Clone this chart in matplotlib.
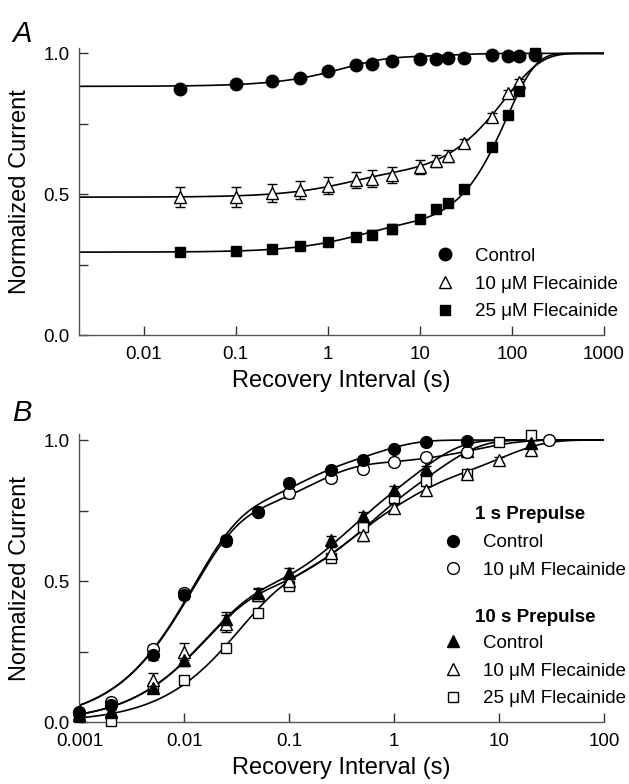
import numpy as np
import matplotlib
matplotlib.use("Agg")
import matplotlib.pyplot as plt
from matplotlib.lines import Line2D

plt.rcParams['font.family'] = ['Liberation Sans', 'DejaVu Sans']

# ---- panel A data: recovery after use-dependent block ----
t_a = [0.025, 0.1, 0.25, 0.5, 1, 2, 3, 5, 10, 15, 20, 30, 60, 90, 120, 180]
ctrl_a = [0.872, 0.893, 0.902, 0.913, 0.936, 0.958, 0.961, 0.973, 0.981,
          0.981, 0.983, 0.983, 0.993, 0.989, 0.989, 0.996]
t10_a = t_a[:15]
fle10_a = [0.491, 0.491, 0.505, 0.515, 0.530, 0.551, 0.555, 0.569, 0.598,
           0.618, 0.636, 0.683, 0.775, 0.860, 0.900]
err10_a = [0.035, 0.035, 0.033, 0.033, 0.030, 0.030, 0.030, 0.028, 0.025,
           0.022, 0.020, 0.015, 0.012, 0.010, 0.010]
fle25_a = [0.296, 0.300, 0.307, 0.316, 0.330, 0.349, 0.357, 0.378, 0.412,
           0.448, 0.471, 0.519, 0.669, 0.781, 0.866, 1.000]
err25_a = [0.012, 0.012, 0.013, 0.013, 0.014, 0.015, 0.015, 0.017, 0.015,
           0.015, 0.013, 0.012, 0.010, 0.010, 0.010, 0.010]

# fitted recovery: 1 - sum a*exp(-(t/tau)^beta)
fit_ctrl_a = ([0.100, 0.017], [1.5, 20.0], [1, 1])
fit_10_a = ([0.070, 0.440], [1.5, 84.0], [1, 1.1])
fit_25_a = ([0.085, 0.620], [2.0, 88.0], [1, 1.38])

# ---- panel B data: 1 s and 10 s prepulses ----
t1c = [0.001, 0.002, 0.005, 0.01, 0.025, 0.05, 0.1, 0.25, 0.5, 1, 2, 5]
ctrl1_b = [0.032, 0.060, 0.240, 0.451, 0.642, 0.744, 0.847, 0.894, 0.929,
           0.968, 0.992, 0.998]
ctrl1_err = [0.01, 0.01, 0.02, 0.015, 0.015, 0.01, 0.015, 0.012, 0.01,
             0.01, 0.01, 0.01]
t1f = [0.001, 0.002, 0.005, 0.01, 0.025, 0.05, 0.1, 0.25, 0.5, 1, 2, 5, 30]
fle1_b = [0.035, 0.073, 0.260, 0.457, 0.645, 0.744, 0.811, 0.864, 0.896,
          0.923, 0.939, 0.959, 1.000]
fle1_err = [0.01, 0.01, 0.015, 0.015, 0.015, 0.01, 0.015, 0.012, 0.01,
            0.01, 0.01, 0.01, 0.01]
t10c = [0.001, 0.002, 0.005, 0.01, 0.025, 0.05, 0.1, 0.25, 0.5, 1, 2, 5, 20]
ctrl10_b = [0.030, 0.040, 0.120, 0.220, 0.365, 0.457, 0.528, 0.646, 0.731,
            0.823, 0.897, 0.962, 0.990]
ctrl10_err = [0.01, 0.01, 0.015, 0.02, 0.025, 0.02, 0.02, 0.015, 0.015,
              0.015, 0.01, 0.01, 0.01]
t10f = [0.001, 0.002, 0.005, 0.01, 0.025, 0.05, 0.1, 0.25, 0.5, 1, 2, 5, 10, 20]
fle10_b = [0.025, 0.035, 0.150, 0.250, 0.350, 0.451, 0.500, 0.600, 0.663,
           0.758, 0.823, 0.880, 0.930, 0.965]
fle10_err = [0.01, 0.01, 0.025, 0.03, 0.03, 0.02, 0.02, 0.02, 0.02,
             0.015, 0.015, 0.01, 0.01, 0.01]
fle25_b = [0.020, 0.006, 0.120, 0.150, 0.262, 0.388, 0.484, 0.581, 0.693,
           0.793, 0.855, 0.879, 0.992, 1.018]
fle25_err = [0.01, 0.01, 0.015, 0.01, 0.01, 0.01, 0.01, 0.01, 0.01,
             0.01, 0.01, 0.01, 0.01, 0.01]

fit_ctrl1 = ([0.70, 0.16, 0.14], [0.0115, 0.09, 0.6])
fit_fle1 = ([0.70, 0.21, 0.09], [0.0115, 0.15, 6.0])
fit_ctrl10 = ([0.42, 0.25, 0.33], [0.015, 0.25, 1.6])
fit_fle10 = ([0.42, 0.20, 0.20, 0.18], [0.015, 0.25, 1.0, 10.0])
fit_fle25 = ([0.45, 0.25, 0.30], [0.03, 0.4, 2.5])

FS = 13.5      # tick / legend text
LFS = 17       # axis labels


def recovery(t, amps, taus, betas=None):
    if betas is None:
        betas = [1] * len(amps)
    y = np.ones_like(t)
    for a, tau, b in zip(amps, taus, betas):
        y -= a * np.exp(-(t / tau) ** b)
    return y


def style_axes(ax, xlim, xticks, xlabels):
    ax.set_xscale('log')
    ax.set_xlim(*xlim)
    ax.set_ylim(0, 1.02)
    ax.set_xticks(xticks)
    ax.set_xticklabels(xlabels)
    ax.xaxis.set_minor_locator(matplotlib.ticker.NullLocator())
    ax.set_yticks([0, 0.5, 1.0])
    ax.set_yticklabels(['0.0', '0.5', '1.0'])
    ax.set_yticks([0.25, 0.75], minor=True)
    for s in ['top', 'right']:
        ax.spines[s].set_visible(False)
    for s in ['left', 'bottom']:
        ax.spines[s].set_color('#555555')
        ax.spines[s].set_linewidth(1.0)
    ax.tick_params(which='both', direction='in', length=6.5, width=1,
                   labelsize=FS, color='#333333')
    ax.tick_params(axis='x', pad=8)
    ax.tick_params(axis='y', pad=7)
    ax.set_xlabel('Recovery Interval (s)', fontsize=LFS, labelpad=5)
    ax.set_ylabel('Normalized Current', fontsize=LFS, labelpad=9)


def key_legend(ax, handles, labels, left, top):
    return ax.legend(handles, labels, loc='upper left',
                     bbox_to_anchor=(left, top), frameon=False, fontsize=FS,
                     handlelength=1.0, handletextpad=1.1, labelspacing=0.56,
                     borderpad=0, borderaxespad=0)


fig = plt.figure(figsize=(6.29, 7.84), dpi=100)
ax_a = fig.add_axes([0.1261, 0.5723, 0.8342, 0.3668])
ax_b = fig.add_axes([0.1261, 0.0787, 0.8342, 0.3672])

mk = dict(color='black', markeredgecolor='black', markeredgewidth=1,
          linestyle='none', clip_on=False, zorder=3)
eb = dict(ecolor='black', elinewidth=1, capsize=3.5, capthick=1)
open_mk = dict(markerfacecolor='white')

# ---- panel A ----
ta = np.logspace(np.log10(0.002), 3, 400)
for p in (fit_ctrl_a, fit_10_a, fit_25_a):
    ax_a.plot(ta, recovery(ta, *p), color='black', lw=1.2, zorder=2)

ax_a.errorbar(t10_a, fle10_a, yerr=err10_a, marker='^', markersize=8.5,
              **open_mk, **mk, **eb)
ax_a.errorbar(t_a, fle25_a, yerr=err25_a, marker='s', markersize=7.5, **mk, **eb)
ax_a.plot(t_a, ctrl_a, marker='o', markersize=9, **mk)

style_axes(ax_a, (0.002, 1000), [0.01, 0.1, 1, 10, 100, 1000],
           ['0.01', '0.1', '1', '10', '100', '1000'])

h_a = [Line2D([], [], marker='o', markersize=9, color='black', linestyle='none'),
       Line2D([], [], marker='^', markersize=8.5, color='black',
              markerfacecolor='white', linestyle='none'),
       Line2D([], [], marker='s', markersize=7.5, color='black', linestyle='none')]
key_legend(ax_a, h_a, ['Control', '10 \u03bcM Flecainide', '25 \u03bcM Flecainide'],
           0.68, 0.304)

# ---- panel B ----
tb = np.logspace(-3, 2, 400)
for p in (fit_ctrl1, fit_fle1, fit_ctrl10, fit_fle10, fit_fle25):
    ax_b.plot(tb, recovery(tb, *p), color='black', lw=1.2, zorder=2)

ax_b.errorbar(t10f, fle25_b, yerr=fle25_err, marker='s', markersize=7.5,
              **open_mk, **mk, **eb)
ax_b.errorbar(t10f, fle10_b, yerr=fle10_err, marker='^', markersize=8,
              **open_mk, **mk, **eb)
ax_b.errorbar(t10c, ctrl10_b, yerr=ctrl10_err, marker='^', markersize=8,
              **mk, **eb)
ax_b.errorbar(t1f, fle1_b, yerr=fle1_err, marker='o', markersize=8.5,
              **open_mk, **mk, **eb)
ax_b.errorbar(t1c, ctrl1_b, yerr=ctrl1_err, marker='o', markersize=8.5,
              **mk, **eb)

style_axes(ax_b, (0.001, 100), [0.001, 0.01, 0.1, 1, 10, 100],
           ['0.001', '0.01', '0.1', '1', '10', '100'])

h_b1 = [Line2D([], [], marker='o', markersize=8.5, color='black', linestyle='none'),
        Line2D([], [], marker='o', markersize=8.5, color='black',
               markerfacecolor='white', linestyle='none')]
leg1 = key_legend(ax_b, h_b1, ['Control', '10 \u03bcM Flecainide'], 0.695, 0.654)
ax_b.add_artist(leg1)
h_b2 = [Line2D([], [], marker='^', markersize=8, color='black', linestyle='none'),
        Line2D([], [], marker='^', markersize=8, color='black',
               markerfacecolor='white', linestyle='none'),
        Line2D([], [], marker='s', markersize=7.5, color='black',
               markerfacecolor='white', linestyle='none')]
key_legend(ax_b, h_b2, ['Control', '10 \u03bcM Flecainide', '25 \u03bcM Flecainide'],
           0.695, 0.304)
ax_b.text(0.754, 0.723, '1 s Prepulse', transform=ax_b.transAxes,
          fontsize=FS, fontweight='bold', va='center')
ax_b.text(0.754, 0.363, '10 s Prepulse', transform=ax_b.transAxes,
          fontsize=FS, fontweight='bold', va='center')

fig.text(0.019, 0.975, 'A', fontsize=21, style='italic', va='top')
fig.text(0.019, 0.491, 'B', fontsize=21, style='italic', va='top')

fig.savefig('out.png', dpi=100)
